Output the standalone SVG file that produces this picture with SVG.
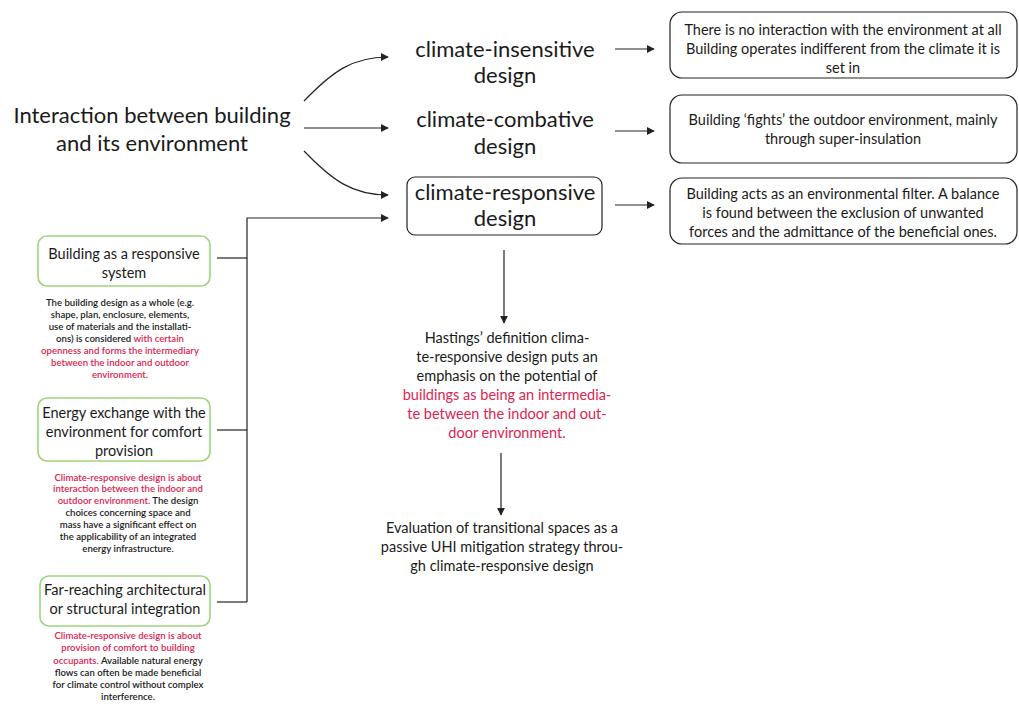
<svg xmlns="http://www.w3.org/2000/svg" width="1019" height="704" viewBox="0 0 1019 704">
  <style>
    text { font-family: Lato, "Open Sans", "Liberation Sans", sans-serif; fill: #1a1a1a; text-anchor: middle; }
    .title { font-size: 22px; }
    .kind { font-size: 22px; }
    .desc { font-size: 14.5px; }
    .lbl { font-size: 14.5px; }
    .note { font-size: 9.6px; font-weight: 600; }
    .mid { font-size: 14.5px; }
    .red { fill: #de2450; }
    .box { fill: #fff; stroke: #222; stroke-width: 1.2; }
    .gbox { fill: #fff; stroke: #9cd67c; stroke-width: 1.6; }
    .wire { fill: none; stroke: #222; stroke-width: 1.2; }
  </style>
  <defs>
    <marker id="head" viewBox="0 0 10 10" refX="9" refY="5" markerWidth="8" markerHeight="8" markerUnits="userSpaceOnUse" orient="auto">
      <path d="M0,0 L10,5 L0,10 z" fill="#222"/>
    </marker>
  </defs>

  <!-- connectors -->
  <g id="connectors">
    <path class="wire" d="M304,101 C332,72 352,57 388,57" marker-end="url(#head)"/>
    <path class="wire" d="M304,128 L388,128" marker-end="url(#head)"/>
    <path class="wire" d="M304,151 C332,180 352,195 388,195" marker-end="url(#head)"/>
    <path class="wire" d="M247,602 L247,218 L388,218" marker-end="url(#head)"/>
    <path class="wire" d="M217,258 L247,258"/>
    <path class="wire" d="M217,430 L247,430"/>
    <path class="wire" d="M217,602 L247,602"/>
    <path class="wire" d="M615,49 L654,49" marker-end="url(#head)"/>
    <path class="wire" d="M615,131 L654,131" marker-end="url(#head)"/>
    <path class="wire" d="M615,205 L654,205" marker-end="url(#head)"/>
    <path class="wire" d="M504,250 L504,323" marker-end="url(#head)"/>
    <path class="wire" d="M501,453 L501,515" marker-end="url(#head)"/>
  </g>

  <!-- main subject -->
  <g id="interaction">
    <text class="title" x="152" y="123">Interaction between building</text>
    <text class="title" x="152" y="151">and its environment</text>
  </g>

  <!-- design approaches -->
  <g id="insensitive">
    <text class="kind" x="505" y="57">climate-insensitive</text>
    <text class="kind" x="505" y="83">design</text>
  </g>
  <g id="combative">
    <text class="kind" x="505" y="127">climate-combative</text>
    <text class="kind" x="505" y="154">design</text>
  </g>
  <g id="responsive">
    <rect class="box" x="407" y="177" width="195" height="58" rx="8"/>
    <text class="kind" x="505" y="200">climate-responsive</text>
    <text class="kind" x="505" y="226">design</text>
  </g>

  <!-- explanations -->
  <g id="insensitive-desc">
    <rect class="box" x="670" y="12" width="347" height="66" rx="12"/>
    <text class="desc" x="843" y="35">There is no interaction with the environment at all</text>
    <text class="desc" x="843" y="54">Building operates indifferent from the climate it is</text>
    <text class="desc" x="843" y="73">set in</text>
  </g>
  <g id="combative-desc">
    <rect class="box" x="670" y="95" width="347" height="68" rx="12"/>
    <text class="desc" x="843" y="125">Building ‘fights’ the outdoor environment, mainly</text>
    <text class="desc" x="843" y="144">through super-insulation</text>
  </g>
  <g id="responsive-desc">
    <rect class="box" x="670" y="178" width="347" height="66" rx="12"/>
    <text class="desc" x="843" y="199">Building acts as an environmental filter. A balance</text>
    <text class="desc" x="843" y="218">is found between the exclusion of unwanted</text>
    <text class="desc" x="843" y="237">forces and the admittance of the beneficial ones.</text>
  </g>

  <!-- aspects of climate-responsive design -->
  <g id="responsive-system">
    <rect class="gbox" x="38" y="236" width="172" height="50" rx="9"/>
    <text class="lbl" x="124" y="259">Building as a responsive</text>
    <text class="lbl" x="124" y="278">system</text>
    <text class="note" x="120" y="306">The building design as a whole (e.g.</text>
    <text class="note" x="120" y="318">shape, plan, enclosure, elements,</text>
    <text class="note" x="120" y="330">use of materials and the installati-</text>
    <text class="note" x="120" y="342">ons) is considered <tspan class="red">with certain</tspan></text>
    <text class="note red" x="120" y="354">openness and forms the intermediary</text>
    <text class="note red" x="120" y="366">between the indoor and outdoor</text>
    <text class="note red" x="120" y="378">environment.</text>
  </g>
  <g id="energy-exchange">
    <rect class="gbox" x="38" y="398" width="172" height="63" rx="9"/>
    <text class="lbl" x="124" y="418">Energy exchange with the</text>
    <text class="lbl" x="124" y="437">environment for comfort</text>
    <text class="lbl" x="124" y="456">provision</text>
    <text class="note red" x="128" y="481">Climate-responsive design is about</text>
    <text class="note red" x="128" y="492">interaction between the indoor and</text>
    <text class="note" x="128" y="504"><tspan class="red">outdoor environment.</tspan> The design</text>
    <text class="note" x="128" y="516">choices concerning space and</text>
    <text class="note" x="128" y="528">mass have a significant effect on</text>
    <text class="note" x="128" y="540">the applicability of an integrated</text>
    <text class="note" x="128" y="552">energy infrastructure.</text>
  </g>
  <g id="integration">
    <rect class="gbox" x="40" y="576" width="170" height="50" rx="9"/>
    <text class="lbl" x="125" y="595">Far-reaching architectural</text>
    <text class="lbl" x="125" y="614">or structural integration</text>
    <text class="note red" x="128" y="639">Climate-responsive design is about</text>
    <text class="note red" x="128" y="651">provision of comfort to building</text>
    <text class="note" x="128" y="664"><tspan class="red">occupants.</tspan> Available natural energy</text>
    <text class="note" x="128" y="676">flows can often be made beneficial</text>
    <text class="note" x="128" y="688">for climate control without complex</text>
    <text class="note" x="128" y="700">interference.</text>
  </g>

  <!-- definition and outcome -->
  <g id="definition">
    <text class="mid" x="507" y="343">Hastings’ definition clima-</text>
    <text class="mid" x="507" y="362">te-responsive design puts an</text>
    <text class="mid" x="507" y="381">emphasis on the potential of</text>
    <text class="mid red" x="507" y="400">buildings as being an intermedia-</text>
    <text class="mid red" x="507" y="419">te between the indoor and out-</text>
    <text class="mid red" x="507" y="438">door environment.</text>
  </g>
  <g id="evaluation">
    <text class="mid" x="502" y="533">Evaluation of transitional spaces as a</text>
    <text class="mid" x="502" y="552">passive UHI mitigation strategy throu-</text>
    <text class="mid" x="502" y="571">gh climate-responsive design</text>
  </g>
</svg>
